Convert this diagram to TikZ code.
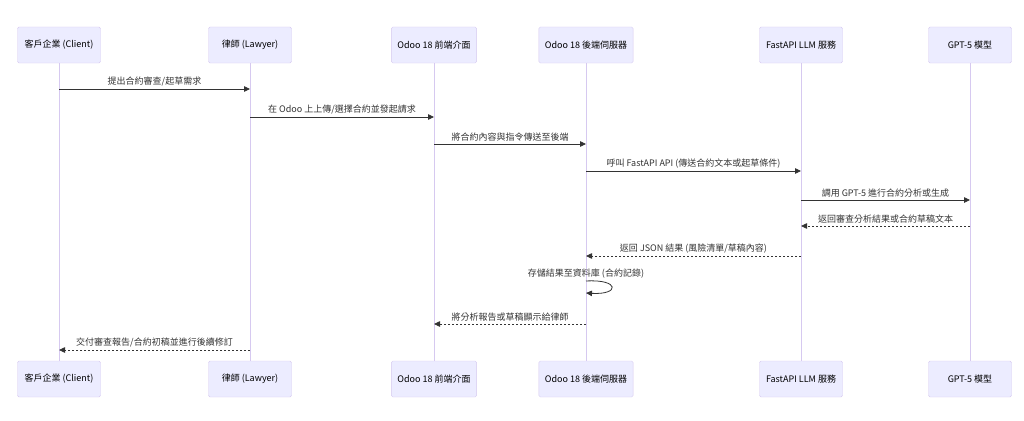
\documentclass[tikz,border=0pt]{standalone}
\usepackage{fontspec}
\setmainfont{Noto Sans CJK TC}
\usetikzlibrary{arrows.meta,positioning}
\definecolor{actorfill}{HTML}{ECECFF}
\definecolor{actorline}{HTML}{D6C9F0}
\definecolor{msgline}{HTML}{333333}
\tikzset{
  actor/.style={draw=actorline,fill=actorfill,rounded corners=1.5pt,minimum width=83pt,
    minimum height=36pt,inner xsep=6pt,font=\fontsize{9}{11}\selectfont},
  life/.style={draw=actorline,line width=1pt},
  msg/.style={draw=msgline,line width=0.8pt,-{Triangle[length=6pt,width=5.5pt]}},
  reply/.style={msg,dash pattern=on 2pt off 2pt},
  lbl/.style={above=2.5pt,inner sep=0pt,text=msgline,font=\fontsize{9}{11}\selectfont},
}
\begin{document}
\begin{tikzpicture}[x=1pt,y=1pt]
  \useasboundingbox (0,0) rectangle (1024,-420);
  % participants, top and bottom, with lifelines
  \foreach \n/\x/\t in {client/59/客戶企業 (Client),lawyer/250/律師 (Lawyer),
      front/434/Odoo 18 前端介面,back/586/Odoo 18 後端伺服器,
      fastapi/801/FastAPI LLM 服務,gpt/970/GPT-5 模型}{
    \node[actor] (\n) at (\x,-45) {\t};
    \node[actor] (\n-b) at (\x,-379) {\t};
    \draw[life] (\n.south) -- (\n-b.north);
  }
  % messages
  \draw[msg] (client |- 0,-89) -- node[lbl] {提出合約審查/起草需求} (lawyer |- 0,-89);
  \draw[msg] (lawyer |- 0,-117) -- node[lbl] {在 Odoo 上上傳/選擇合約並發起請求} (front |- 0,-117);
  \draw[msg] (front |- 0,-144) -- node[lbl] {將合約內容與指令傳送至後端} (back |- 0,-144);
  \draw[msg] (back |- 0,-171) -- node[lbl] {呼叫 FastAPI API (傳送合約文本或起草條件)} (fastapi |- 0,-171);
  \draw[msg] (fastapi |- 0,-200) -- node[lbl] {調用 GPT-5 進行合約分析或生成} (gpt |- 0,-200);
  \draw[reply] (gpt |- 0,-226) -- node[lbl] {返回審查分析結果或合約草稿文本} (fastapi |- 0,-226);
  \draw[reply] (fastapi |- 0,-256) -- node[lbl] {返回 JSON 結果 (風險清單/草稿內容)} (back |- 0,-256);
  \draw[msg] (back |- 0,-281) node[lbl] {存儲結果至資料庫 (合約記錄)}
    .. controls +(34,2) and +(34,-2) .. (back |- 0,-293);
  \draw[reply] (back |- 0,-324) -- node[lbl] {將分析報告或草稿顯示給律師} (front |- 0,-324);
  \draw[reply] (lawyer |- 0,-350) -- node[lbl] {交付審查報告/合約初稿並進行後續修訂} (client |- 0,-350);
\end{tikzpicture}
\end{document}
